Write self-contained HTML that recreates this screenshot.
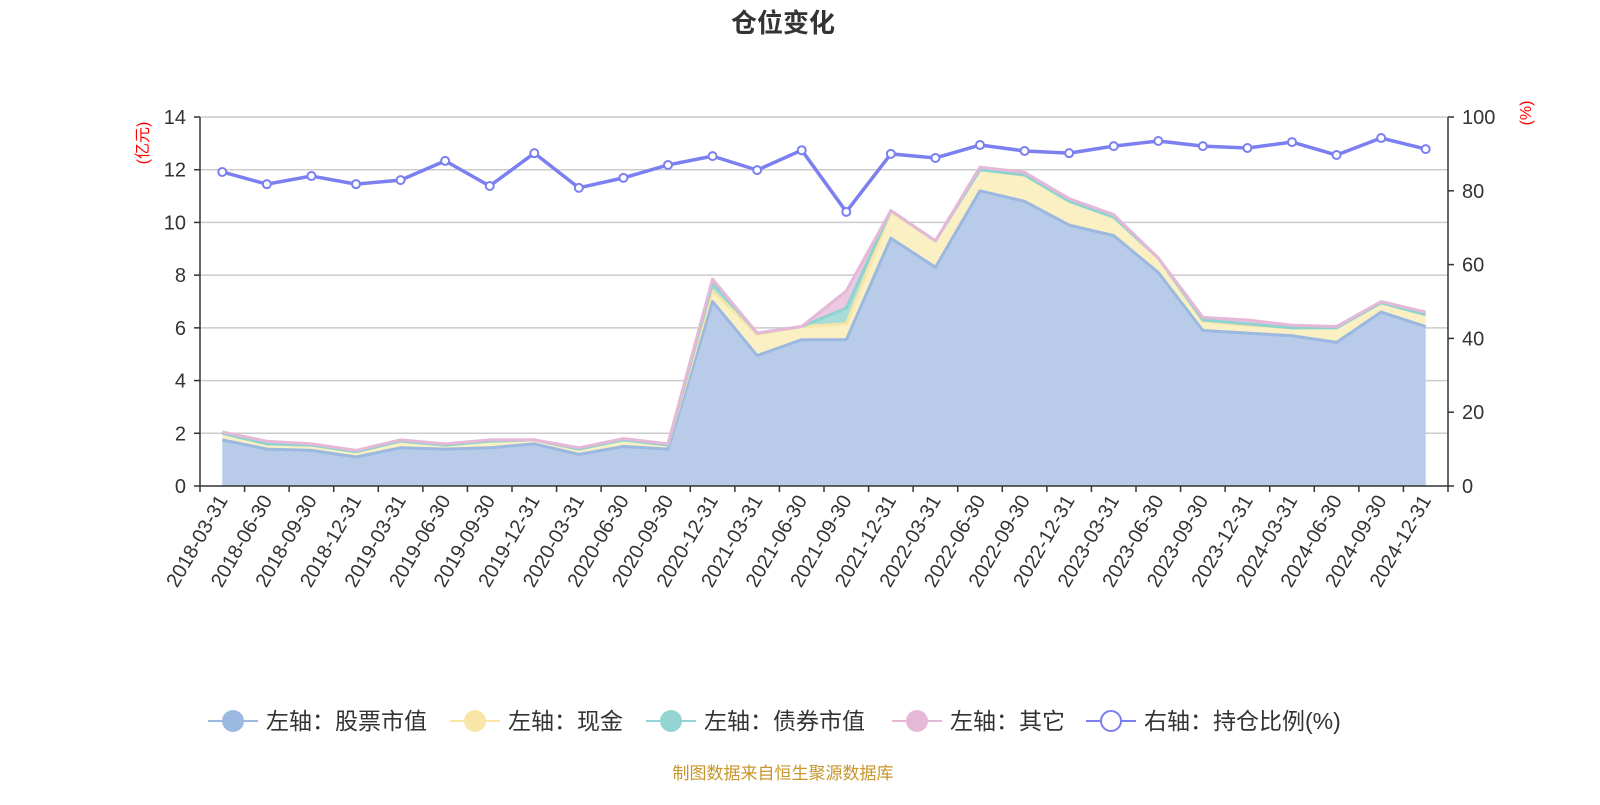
<!DOCTYPE html>
<html><head><meta charset="utf-8">
<style>
html,body{margin:0;padding:0;background:#fff;}
body{width:1600px;height:800px;overflow:hidden;font-family:"Liberation Sans","Noto Sans CJK SC",sans-serif;}
</style></head>
<body>
<svg id="chart" width="1600" height="800" xmlns="http://www.w3.org/2000/svg" font-family="'Liberation Sans','Noto Sans CJK SC',sans-serif">
<text x="783" y="32" text-anchor="middle" font-size="26" font-weight="bold" fill="#333">仓位变化</text>
<g id="grid"></g>
<g id="areas"></g>
<g id="axes"></g>
<g id="ratio"></g>
<text transform="translate(148,143) rotate(-90)" text-anchor="middle" font-size="16" fill="#f00">(亿元)</text>
<text transform="translate(1531,113) rotate(-90)" text-anchor="middle" font-size="16" fill="#f00">(%)</text>
<g id="legend"></g>
<text x="783" y="779" text-anchor="middle" font-size="17" fill="#c8962a">制图数据来自恒生聚源数据库</text>
</svg>
<script>
const categories=["2018-03-31","2018-06-30","2018-09-30","2018-12-31","2019-03-31","2019-06-30","2019-09-30","2019-12-31","2020-03-31","2020-06-30","2020-09-30","2020-12-31","2021-03-31","2021-06-30","2021-09-30","2021-12-31","2022-03-31","2022-06-30","2022-09-30","2022-12-31","2023-03-31","2023-06-30","2023-09-30","2023-12-31","2024-03-31","2024-06-30","2024-09-30","2024-12-31"];
const stockValues=[1.75,1.4,1.35,1.1,1.45,1.4,1.45,1.6,1.2,1.5,1.4,7.0,4.95,5.55,5.55,9.4,8.3,11.2,10.8,9.9,9.5,8.1,5.9,5.8,5.7,5.45,6.6,6.05];
const cashValues=[0.25,0.2,0.2,0.2,0.25,0.15,0.25,0.15,0.2,0.25,0.15,0.4,0.8,0.5,0.6,1.0,1.0,0.8,1.0,0.9,0.7,0.55,0.35,0.3,0.3,0.55,0.35,0.45];
const bondValues=[0,0,0,0,0,0,0,0,0,0,0,0.3,0.05,0,0.6,0.05,0,0,0,0,0,0,0.05,0.05,0,0,0,0];
const otherValues=[0.05,0.1,0.05,0.05,0.05,0.05,0.05,0,0.05,0.05,0.05,0.15,0,0,0.65,0,0,0.1,0.1,0.1,0.1,0,0.1,0.15,0.1,0.05,0.05,0.1];
const ratioValues=[85.1,81.8,84,81.8,82.9,88.1,81.3,90.2,80.8,83.5,87,89.4,85.6,91,74.3,90,88.9,92.4,90.8,90.2,92.1,93.5,92.1,91.6,93.2,89.7,94.3,91.3];
const leftTicks=[0,2,4,6,8,10,12,14];
const rightTicks=[0,20,40,60,80,100];

const NS="http://www.w3.org/2000/svg";
const X0=200,X1=1448,Y0=486,Y1=117;
const step=(X1-X0)/categories.length;
function xPos(i){return X0+step*(i+0.5);}
function yLeft(v){return Y0-(v/14)*(Y0-Y1);}
function yRight(v){return Y0-(v/100)*(Y0-Y1);}
function mk(tag,attrs,parent){const e=document.createElementNS(NS,tag);for(const k in attrs)e.setAttribute(k,attrs[k]);parent.appendChild(e);return e;}

const grid=document.getElementById('grid'),axes=document.getElementById('axes'),areas=document.getElementById('areas'),ratioG=document.getElementById('ratio'),legend=document.getElementById('legend');

leftTicks.forEach(t=>{
  const y=yLeft(t);
  if(t>0){const g=mk('line',{x1:X0,x2:X1,y1:y,y2:y,stroke:'#ccc','stroke-width':1.5},grid);
  
  }
  mk('line',{x1:X0-6,x2:X0,y1:y,y2:y,stroke:'#333','stroke-width':1.5},axes);
  const tx=mk('text',{x:X0-14,y:y+7,'text-anchor':'end','font-size':20,fill:'#333'},axes);
  tx.textContent=t;
  
  
});
rightTicks.forEach(t=>{
  const y=yRight(t);
  mk('line',{x1:X1,x2:X1+6,y1:y,y2:y,stroke:'#333','stroke-width':1.5},axes);
  const tx=mk('text',{x:X1+14,y:y+7,'text-anchor':'start','font-size':20,fill:'#333'},axes);
  tx.textContent=t;
  
  
});
mk('line',{x1:X0,x2:X0,y1:Y1,y2:Y0,stroke:'#333','stroke-width':1.5},axes);
mk('line',{x1:X1,x2:X1,y1:Y1,y2:Y0,stroke:'#333','stroke-width':1.5},axes);
mk('line',{x1:X0,x2:X1,y1:Y0,y2:Y0,stroke:'#333','stroke-width':1.5},axes);
for(let i=0;i<=categories.length;i++){const x=X0+step*i;mk('line',{x1:x,x2:x,y1:Y0,y2:Y0+6,stroke:'#333','stroke-width':1.5},axes);}
categories.forEach((c,i)=>{
  const x=xPos(i);
  const tx=mk('text',{transform:`translate(${x+6},${Y0+14}) rotate(-60)`,'text-anchor':'end','font-size':20,fill:'#333'},axes);
  tx.textContent=c;
  
  
});

const series=[
 {vals:stockValues,fill:'#b8cce9',line:'#9bb8e0',name:'stock-area'},
 {vals:cashValues,fill:'#faf0c4',line:'#f6e5a6',name:'cash-area'},
 {vals:bondValues,fill:'#a8dcd8',line:'#8fd3d0',name:'bond-area'},
 {vals:otherValues,fill:'#ecc8e2',line:'#e6b8d8',name:'other-area'}
];
let base=categories.map(()=>0);
series.forEach(s=>{
  const top=base.map((b,i)=>b+s.vals[i]);
  let d='M'+top.map((v,i)=>xPos(i)+','+yLeft(v)).join(' L');
  for(let i=categories.length-1;i>=0;i--)d+=' L'+xPos(i)+','+yLeft(base[i]);
  d+='Z';
  const p=mk('path',{d:d,fill:s.fill},areas);
  
  
  s.top=top;base=top;
});
series.forEach(s=>{
  const l=mk('polyline',{points:s.top.map((v,i)=>xPos(i)+','+yLeft(v)).join(' '),fill:'none',stroke:s.line,'stroke-width':3,'stroke-linejoin':'round'},areas);
  
  
});

const rl=mk('polyline',{points:ratioValues.map((v,i)=>xPos(i)+','+yRight(v)).join(' '),fill:'none',stroke:'#7b7ff0','stroke-width':3.5,'stroke-linejoin':'round'},ratioG);


ratioValues.forEach((v,i)=>{
  const c=mk('circle',{cx:xPos(i),cy:yRight(v),r:4,fill:'#fff',stroke:'#7b7ff0','stroke-width':2},ratioG);
  
  
});

const legendItems=[
 {x:208,label:'左轴：股票市值',color:'#9bb8e0',hollow:false,name:'legend-stock'},
 {x:450,label:'左轴：现金',color:'#f8e6a6',hollow:false,name:'legend-cash'},
 {x:646,label:'左轴：债券市值',color:'#94d4d2',hollow:false,name:'legend-bond'},
 {x:892,label:'左轴：其它',color:'#e6b8d8',hollow:false,name:'legend-other'},
 {x:1086,label:'右轴：持仓比例(%)',color:'#7b7ff0',hollow:true,name:'legend-ratio'}
];
legendItems.forEach(it=>{
  const g=mk('g',{},legend);
  
  
  const y=721;
  mk('line',{x1:it.x,x2:it.x+50,y1:y,y2:y,stroke:it.color,'stroke-width':2},g);
  mk('circle',{cx:it.x+25,cy:y,r:it.hollow?10:11,fill:it.hollow?'#fff':it.color,stroke:it.color,'stroke-width':it.hollow?2:0},g);
  const t=mk('text',{x:it.x+58,y:y+8,'font-size':23,fill:'#333'},g);
  t.textContent=it.label;
});
</script>
</body></html>
